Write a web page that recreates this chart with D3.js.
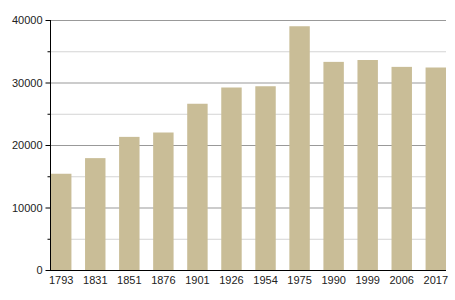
<!DOCTYPE html>
<html>
<head>
<meta charset="utf-8">
<script src="https://cdn.jsdelivr.net/npm/d3@7"></script>
<style>
  body { margin: 0; background: #fff; }
  text { font-family: "Liberation Sans", Arial, sans-serif; font-size: 11px; fill: #222; }
</style>
</head>
<body>
<div id="chart"></div>
<script>
var years = ["1793", "1831", "1851", "1876", "1901", "1926", "1954", "1975", "1990", "1999", "2006", "2017"];
var population = [15400, 17900, 21300, 22000, 26600, 29200, 29400, 39000, 33300, 33600, 32500, 32400];
var majorTicks = [0, 10000, 20000, 30000, 40000];
var minorTicks = [5000, 15000, 25000, 35000];

var fullwidth = 455, fullheight = 300;
var margin = {top: 20, right: 9, bottom: 30, left: 50};
var width = fullwidth - margin.left - margin.right;
var height = fullheight - margin.top - margin.bottom;

var svg = d3.select("#chart")
    .append("svg")
    .attr("width", fullwidth)
    .attr("height", fullheight)
    .append("g")
    .attr("transform", "translate(" + margin.left + "," + margin.top + ")");

var xScale = d3.scaleBand()
    .domain(years)
    .range([1, width])
    .paddingInner(0.4)
    .paddingOuter(0);

var yScale = d3.scaleLinear()
    .domain([0, 40000])
    .range([height, 0]);

// gridlines
svg.selectAll(".minor")
    .data(minorTicks)
    .enter()
    .append("line")
    .attr("x1", 0).attr("x2", width)
    .attr("y1", function(d) { return yScale(d) + 0.5; })
    .attr("y2", function(d) { return yScale(d) + 0.5; })
    .attr("stroke", "#d4d4d4");

svg.selectAll(".major")
    .data(majorTicks.slice(1))
    .enter()
    .append("line")
    .attr("x1", 0).attr("x2", width)
    .attr("y1", function(d) { return yScale(d) + 0.5; })
    .attr("y2", function(d) { return yScale(d) + 0.5; })
    .attr("stroke", "#999");

// bars
svg.selectAll("rect")
    .data(population)
    .enter()
    .append("rect")
    .attr("x", function(d, i) { return xScale(years[i]); })
    .attr("width", xScale.bandwidth())
    .attr("y", function(d) { return yScale(d); })
    .attr("height", function(d) { return height - yScale(d); })
    .attr("fill", "#c9bd97");

// axes
var yAxis = d3.axisLeft(yScale)
    .tickValues(majorTicks)
    .tickSize(5)
    .tickPadding(3)
    .tickFormat(function(d) { return d; });

var yg = svg.append("g")
    .attr("transform", "translate(0.5,0)")
    .call(yAxis);
yg.select(".domain").attr("d", "M0," + yScale(40000) + "V" + (height + 0.5));

yg.selectAll(".minortick")
    .data(minorTicks)
    .enter()
    .append("line")
    .attr("x1", -3).attr("x2", 0)
    .attr("y1", function(d) { return yScale(d) + 0.5; })
    .attr("y2", function(d) { return yScale(d) + 0.5; })
    .attr("stroke", "#000");

var xAxis = d3.axisBottom(xScale)
    .tickSize(0)
    .tickPadding(6);

var xg = svg.append("g")
    .attr("transform", "translate(0," + (height + 0.5) + ")")
    .call(xAxis);
xg.select(".domain").attr("d", "M0,0H" + width);

svg.selectAll(".tick text").style("font-size", "11px").attr("fill", "#222");
</script>
</body>
</html>
